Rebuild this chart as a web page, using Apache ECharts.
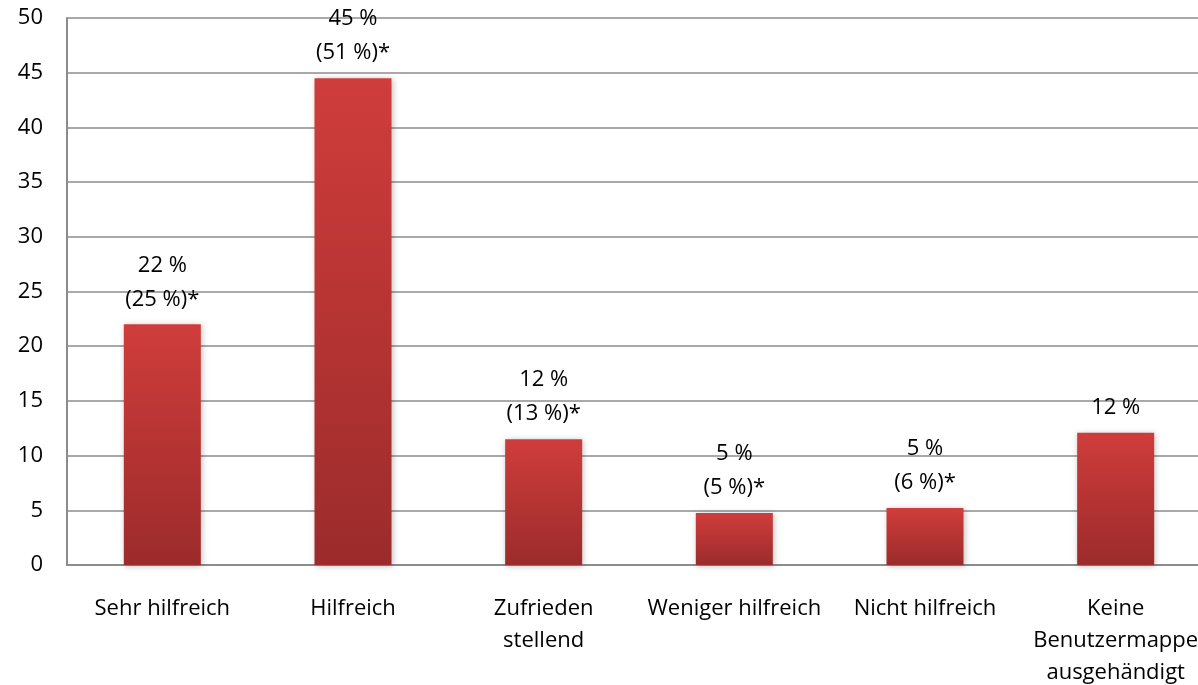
<!DOCTYPE html>
<html>
<head>
<meta charset="utf-8">
<script src="https://cdn.jsdelivr.net/npm/echarts@6/dist/echarts.min.js"></script>
<style>
  html, body { margin: 0; padding: 0; background: #fff; }
  #chart { width: 1198px; height: 685px; }
</style>
</head>
<body>
<div id="chart"></div>
<script>
// Kategorien und Werte (in %)
const categories = ['Sehr hilfreich', 'Hilfreich', 'Zufrieden\nstellend', 'Weniger hilfreich', 'Nicht hilfreich', 'Keine\nBenutzermappe\nausgehändigt'];
const values = [22, 44.5, 11.5, 4.75, 5.2, 12.1];
const barLabels = ['22 %\n(25 %)*', '45 %\n(51 %)*', '12 %\n(13 %)*', '5 %\n(5 %)*', '5 %\n(6 %)*', '12 %'];
const yTicks = { min: 0, max: 50, interval: 5 };

const font = '"Open Sans", "Noto Sans", sans-serif';
const chart = echarts.init(document.getElementById('chart'), null, { renderer: 'canvas' });

chart.setOption({
  animation: false,
  textStyle: { fontFamily: font },
  // Plotbereich läuft rechts über den Rand hinaus (wie im Original abgeschnitten)
  grid: { left: 67, top: 18, height: 547, width: 1144, outerBoundsMode: 'none', containLabel: false },
  xAxis: {
    type: 'category',
    data: categories,
    axisLine: { lineStyle: { color: '#8c8c8c', width: 2 } },
    axisTick: { show: false },
    axisLabel: { color: '#000', fontSize: 22, lineHeight: 32, margin: 28, interval: 0, fontFamily: font }
  },
  yAxis: {
    type: 'value',
    min: yTicks.min,
    max: yTicks.max,
    interval: yTicks.interval,
    axisLine: { show: true, lineStyle: { color: '#8c8c8c', width: 2 } },
    axisTick: { show: false },
    splitLine: { lineStyle: { color: '#8c8c8c', width: 1.5 } },
    axisLabel: { color: '#000', fontSize: 22, margin: 24, fontFamily: font }
  },
  series: [{
    type: 'bar',
    data: values.map((v, i) => ({
      value: v,
      label: { formatter: barLabels[i] }
    })),
    barWidth: 77,
    itemStyle: {
      color: new echarts.graphic.LinearGradient(0, 0, 0, 1, [
        { offset: 0, color: '#cf3d3b' },
        { offset: 1, color: '#9c2b2b' }
      ]),
      shadowColor: 'rgba(0,0,0,0.25)',
      shadowBlur: 6,
      shadowOffsetX: 1,
      shadowOffsetY: 1
    },
    label: {
      show: true,
      position: 'top',
      distance: 8,
      color: '#000',
      fontSize: 22,
      lineHeight: 34,
      fontFamily: font
    }
  }]
});
</script>
</body>
</html>
